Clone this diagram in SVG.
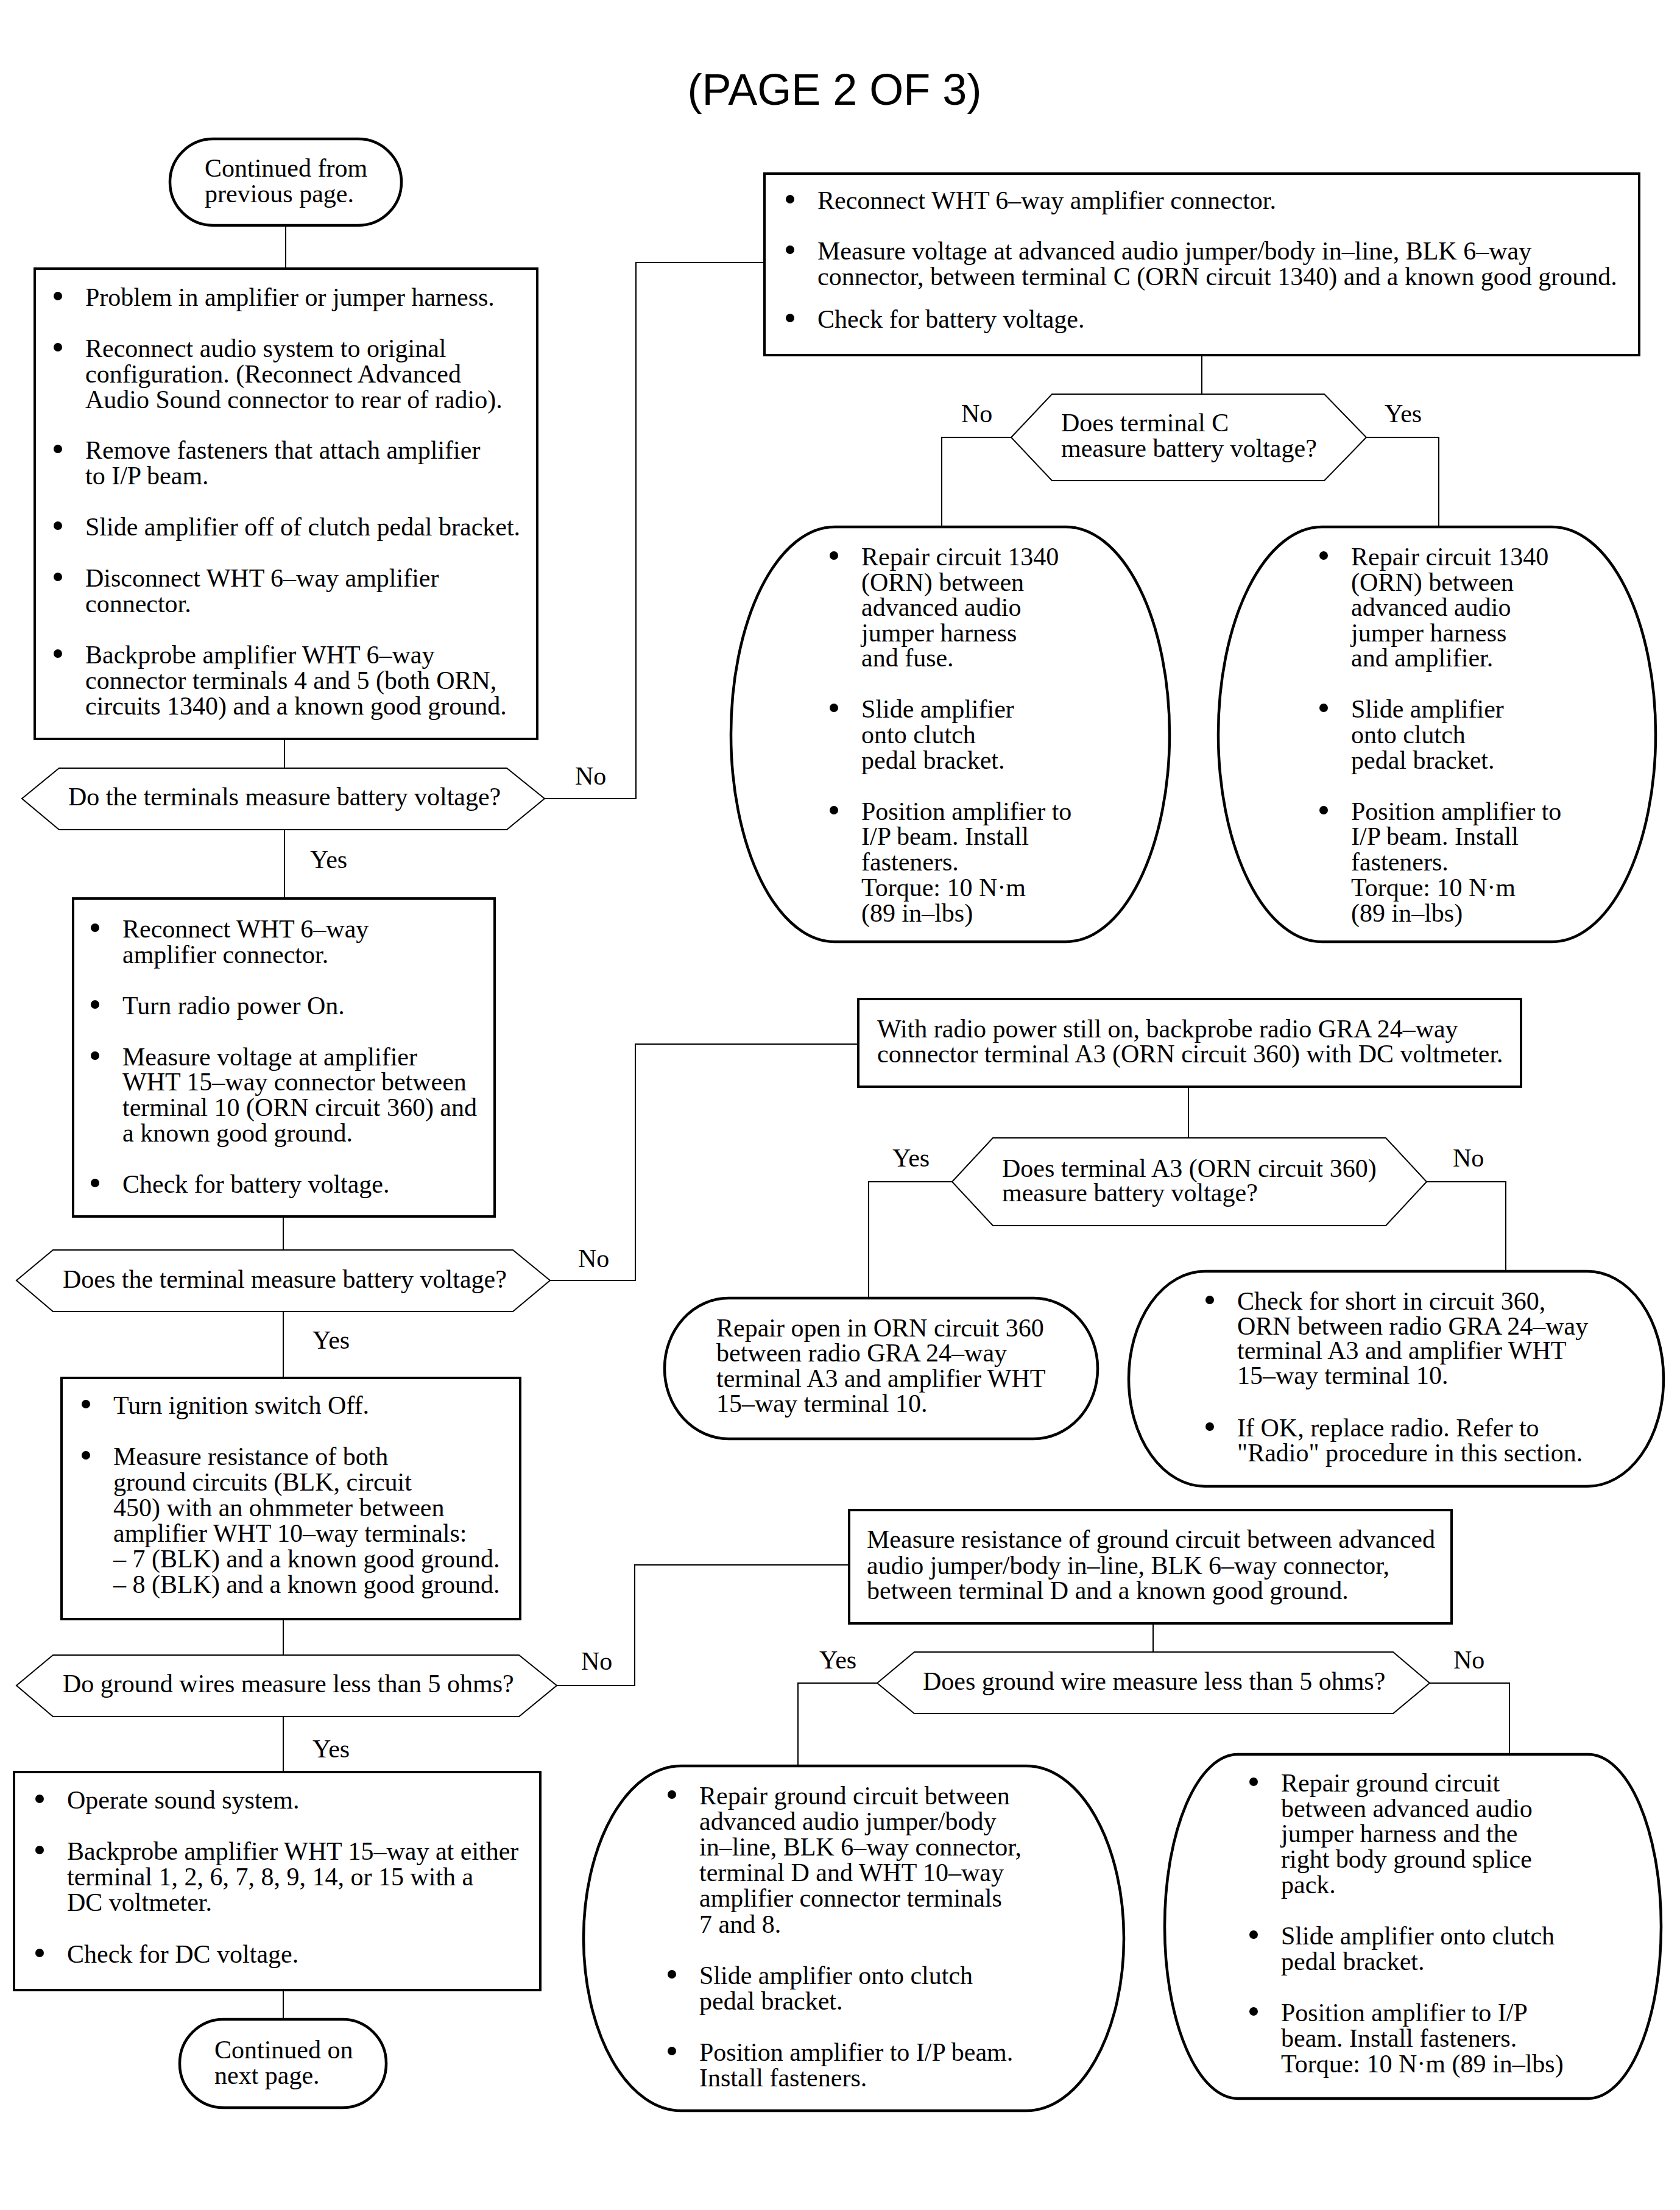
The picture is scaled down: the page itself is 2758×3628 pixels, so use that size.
<svg xmlns="http://www.w3.org/2000/svg" width="2758" height="3628" viewBox="0 0 2758 3628">
<style>
.bg{fill:#fff}
.box{fill:#fff;stroke:#000;stroke-width:4}
.term{fill:#fff;stroke:#000;stroke-width:4.5}
.oval{fill:#fff;stroke:#000;stroke-width:4.5}
.hex{fill:#fff;stroke:#000;stroke-width:2}
.conn path{fill:none;stroke:#000;stroke-width:2}
.dot{fill:#000}
text{font-family:"Liberation Serif","Times New Roman",serif;font-size:42px;fill:#000}
.title{font-family:"Liberation Sans",Arial,sans-serif;font-size:72px;text-anchor:middle}
</style>
<defs>
<circle id="bul" class="dot" cx="0" cy="-16" r="7"/>
</defs>
<rect class="bg" x="0" y="0" width="2758" height="3628"/>
<text class="title" x="1370" y="172">(PAGE 2 OF 3)</text>

<g id="connectors" class="conn">
<path d="M469,370V441"/>
<path d="M467,1213V1261"/>
<path d="M894,1311H1044V431H1255"/>
<path d="M467,1362V1475"/>
<path d="M1973,583V647"/>
<path d="M1660,718H1546V865"/>
<path d="M2243,718H2362V865"/>
<path d="M465,1997V2052"/>
<path d="M903,2102H1043V1714H1409"/>
<path d="M465,2153V2262"/>
<path d="M1951,1784V1868"/>
<path d="M1563,1940H1426V2131"/>
<path d="M2342,1940H2472V2087"/>
<path d="M465,2658V2717"/>
<path d="M914,2767H1042V2569H1394"/>
<path d="M465,2818V2909"/>
<path d="M1893,2665V2712"/>
<path d="M1440,2763H1310V2899"/>
<path d="M2347,2763H2478V2880"/>
<path d="M465,3267V3315"/>
</g>

<g id="labels">
<text x="944" y="1288">No</text>
<text x="509" y="1425">Yes</text>
<text x="1578" y="693">No</text>
<text x="2273" y="693">Yes</text>
<text x="949" y="2080">No</text>
<text x="513" y="2214">Yes</text>
<text x="1465" y="1915">Yes</text>
<text x="2385" y="1915">No</text>
<text x="954" y="2741">No</text>
<text x="513" y="2885">Yes</text>
<text x="1345" y="2739">Yes</text>
<text x="2386" y="2739">No</text>
</g>

<g id="start">
<rect class="term" x="279" y="228" width="380" height="142" rx="71" ry="71"/>
<text x="336" y="290">Continued from</text>
<text x="336" y="332">previous page.</text>
</g>

<g id="box1">
<rect class="box" x="57" y="441" width="825" height="772"/>
<use href="#bul" x="95" y="502"/>
<use href="#bul" x="95" y="586"/>
<use href="#bul" x="95" y="753"/>
<use href="#bul" x="95" y="879"/>
<use href="#bul" x="95" y="963"/>
<use href="#bul" x="95" y="1089"/>
<text x="140" y="502">Problem in amplifier or jumper harness.</text>
<text x="140" y="586">Reconnect audio system to original</text>
<text x="140" y="628">configuration. (Reconnect Advanced</text>
<text x="140" y="670">Audio Sound connector to rear of radio).</text>
<text x="140" y="753">Remove fasteners that attach amplifier</text>
<text x="140" y="795">to I/P beam.</text>
<text x="140" y="879">Slide amplifier off of clutch pedal bracket.</text>
<text x="140" y="963">Disconnect WHT 6–way amplifier</text>
<text x="140" y="1005">connector.</text>
<text x="140" y="1089">Backprobe amplifier WHT 6–way</text>
<text x="140" y="1131">connector terminals 4 and 5 (both ORN,</text>
<text x="140" y="1173">circuits 1340) and a known good ground.</text>
</g>

<g id="dec1">
<polygon class="hex" points="36,1311 97,1261 832,1261 894,1311 832,1362 97,1362"/>
<text x="112" y="1322">Do the terminals measure battery voltage?</text>
</g>

<g id="box2">
<rect class="box" x="1255" y="285" width="1436" height="298"/>
<use href="#bul" x="1297" y="343"/>
<use href="#bul" x="1297" y="426"/>
<use href="#bul" x="1297" y="538"/>
<text x="1342" y="343">Reconnect WHT 6–way amplifier connector.</text>
<text x="1342" y="426">Measure voltage at advanced audio jumper/body in–line, BLK 6–way</text>
<text x="1342" y="468">connector, between terminal C (ORN circuit 1340) and a known good ground.</text>
<text x="1342" y="538">Check for battery voltage.</text>
</g>

<g id="dec2">
<polygon class="hex" points="1660,718 1727,647 2174,647 2243,718 2174,789 1727,789"/>
<text x="1742" y="708">Does terminal C</text>
<text x="1742" y="750">measure battery voltage?</text>
</g>

<g id="oval1">
<rect class="oval" x="1200" y="865" width="720" height="681" rx="170" ry="340"/>
<use href="#bul" x="1369" y="928"/>
<use href="#bul" x="1369" y="1178"/>
<use href="#bul" x="1369" y="1346"/>
<text x="1414" y="928">Repair circuit 1340</text>
<text x="1414" y="970">(ORN) between</text>
<text x="1414" y="1011">advanced audio</text>
<text x="1414" y="1053">jumper harness</text>
<text x="1414" y="1094">and fuse.</text>
<text x="1414" y="1178">Slide amplifier</text>
<text x="1414" y="1220">onto clutch</text>
<text x="1414" y="1262">pedal bracket.</text>
<text x="1414" y="1346">Position amplifier to</text>
<text x="1414" y="1387">I/P beam. Install</text>
<text x="1414" y="1429">fasteners.</text>
<text x="1414" y="1471">Torque: 10 N·m</text>
<text x="1414" y="1513">(89 in–lbs)</text>
</g>

<g id="oval2">
<rect class="oval" x="2000" y="865" width="718" height="681" rx="170" ry="340"/>
<use href="#bul" x="2173" y="928"/>
<use href="#bul" x="2173" y="1178"/>
<use href="#bul" x="2173" y="1346"/>
<text x="2218" y="928">Repair circuit 1340</text>
<text x="2218" y="970">(ORN) between</text>
<text x="2218" y="1011">advanced audio</text>
<text x="2218" y="1053">jumper harness</text>
<text x="2218" y="1094">and amplifier.</text>
<text x="2218" y="1178">Slide amplifier</text>
<text x="2218" y="1220">onto clutch</text>
<text x="2218" y="1262">pedal bracket.</text>
<text x="2218" y="1346">Position amplifier to</text>
<text x="2218" y="1387">I/P beam. Install</text>
<text x="2218" y="1429">fasteners.</text>
<text x="2218" y="1471">Torque: 10 N·m</text>
<text x="2218" y="1513">(89 in–lbs)</text>
</g>

<g id="box3">
<rect class="box" x="120" y="1475" width="692" height="522"/>
<use href="#bul" x="156" y="1539"/>
<use href="#bul" x="156" y="1665"/>
<use href="#bul" x="156" y="1749"/>
<use href="#bul" x="156" y="1958"/>
<text x="201" y="1539">Reconnect WHT 6–way</text>
<text x="201" y="1581">amplifier connector.</text>
<text x="201" y="1665">Turn radio power On.</text>
<text x="201" y="1749">Measure voltage at amplifier</text>
<text x="201" y="1790">WHT 15–way connector between</text>
<text x="201" y="1832">terminal 10 (ORN circuit 360) and</text>
<text x="201" y="1874">a known good ground.</text>
<text x="201" y="1958">Check for battery voltage.</text>
</g>

<g id="dec3">
<polygon class="hex" points="27,2102 87,2052 842,2052 903,2102 842,2153 87,2153"/>
<text x="103" y="2114">Does the terminal measure battery voltage?</text>
</g>

<g id="box4">
<rect class="box" x="1409" y="1640" width="1088" height="144"/>
<text x="1440" y="1703">With radio power still on, backprobe radio GRA 24–way</text>
<text x="1440" y="1744">connector terminal A3 (ORN circuit 360) with DC voltmeter.</text>
</g>

<g id="dec4">
<polygon class="hex" points="1563,1940 1630,1868 2275,1868 2342,1940 2275,2012 1630,2012"/>
<text x="1645" y="1932">Does terminal A3 (ORN circuit 360)</text>
<text x="1645" y="1972">measure battery voltage?</text>
</g>

<g id="oval3">
<rect class="oval" x="1091" y="2131" width="711" height="231" rx="105" ry="115"/>
<text x="1176" y="2194">Repair open in ORN circuit 360</text>
<text x="1176" y="2235">between radio GRA 24–way</text>
<text x="1176" y="2277">terminal A3 and amplifier WHT</text>
<text x="1176" y="2318">15–way terminal 10.</text>
</g>

<g id="oval4">
<rect class="oval" x="1853" y="2087" width="878" height="353" rx="125" ry="176"/>
<use href="#bul" x="1986" y="2150"/>
<use href="#bul" x="1986" y="2358"/>
<text x="2031" y="2150">Check for short in circuit 360,</text>
<text x="2031" y="2191">ORN between radio GRA 24–way</text>
<text x="2031" y="2231">terminal A3 and amplifier WHT</text>
<text x="2031" y="2272">15–way terminal 10.</text>
<text x="2031" y="2358">If OK, replace radio. Refer to</text>
<text x="2031" y="2399">"Radio" procedure in this section.</text>
</g>

<g id="box5">
<rect class="box" x="101" y="2262" width="753" height="396"/>
<use href="#bul" x="141" y="2321"/>
<use href="#bul" x="141" y="2405"/>
<text x="186" y="2321">Turn ignition switch Off.</text>
<text x="186" y="2405">Measure resistance of both</text>
<text x="186" y="2447">ground circuits (BLK, circuit</text>
<text x="186" y="2489">450) with an ohmmeter between</text>
<text x="186" y="2531">amplifier WHT 10–way terminals:</text>
<text x="186" y="2573">– 7 (BLK) and a known good ground.</text>
<text x="186" y="2615">– 8 (BLK) and a known good ground.</text>
</g>

<g id="dec5">
<polygon class="hex" points="27,2767 87,2717 852,2717 914,2767 852,2818 87,2818"/>
<text x="103" y="2778">Do ground wires measure less than 5 ohms?</text>
</g>

<g id="box6">
<rect class="box" x="1394" y="2479" width="989" height="186"/>
<text x="1423" y="2541">Measure resistance of ground circuit between advanced</text>
<text x="1423" y="2584">audio jumper/body in–line, BLK 6–way connector,</text>
<text x="1423" y="2625">between terminal D and a known good ground.</text>
</g>

<g id="dec6">
<polygon class="hex" points="1440,2763 1501,2712 2287,2712 2347,2763 2287,2813 1501,2813"/>
<text x="1515" y="2774">Does ground wire measure less than 5 ohms?</text>
</g>

<g id="oval5">
<rect class="oval" x="958" y="2899" width="887" height="566" rx="160" ry="283"/>
<use href="#bul" x="1103" y="2962"/>
<use href="#bul" x="1103" y="3257"/>
<use href="#bul" x="1103" y="3383"/>
<text x="1148" y="2962">Repair ground circuit between</text>
<text x="1148" y="3004">advanced audio jumper/body</text>
<text x="1148" y="3046">in–line, BLK 6–way connector,</text>
<text x="1148" y="3088">terminal D and WHT 10–way</text>
<text x="1148" y="3130">amplifier connector terminals</text>
<text x="1148" y="3173">7 and 8.</text>
<text x="1148" y="3257">Slide amplifier onto clutch</text>
<text x="1148" y="3299">pedal bracket.</text>
<text x="1148" y="3383">Position amplifier to I/P beam.</text>
<text x="1148" y="3425">Install fasteners.</text>
</g>

<g id="oval6">
<rect class="oval" x="1912" y="2880" width="815" height="565" rx="120" ry="282"/>
<use href="#bul" x="2058" y="2941"/>
<use href="#bul" x="2058" y="3192"/>
<use href="#bul" x="2058" y="3318"/>
<text x="2103" y="2941">Repair ground circuit</text>
<text x="2103" y="2983">between advanced audio</text>
<text x="2103" y="3024">jumper harness and the</text>
<text x="2103" y="3066">right body ground splice</text>
<text x="2103" y="3108">pack.</text>
<text x="2103" y="3192">Slide amplifier onto clutch</text>
<text x="2103" y="3234">pedal bracket.</text>
<text x="2103" y="3318">Position amplifier to I/P</text>
<text x="2103" y="3360">beam. Install fasteners.</text>
<text x="2103" y="3402">Torque: 10 N·m (89 in–lbs)</text>
</g>

<g id="box7">
<rect class="box" x="23" y="2909" width="864" height="358"/>
<use href="#bul" x="65" y="2969"/>
<use href="#bul" x="65" y="3053"/>
<use href="#bul" x="65" y="3222"/>
<text x="110" y="2969">Operate sound system.</text>
<text x="110" y="3053">Backprobe amplifier WHT 15–way at either</text>
<text x="110" y="3095">terminal 1, 2, 6, 7, 8, 9, 14, or 15 with a</text>
<text x="110" y="3137">DC voltmeter.</text>
<text x="110" y="3222">Check for DC voltage.</text>
</g>

<g id="end">
<rect class="term" x="295" y="3315" width="339" height="145" rx="72" ry="72"/>
<text x="352" y="3379">Continued on</text>
<text x="352" y="3421">next page.</text>
</g>
</svg>
